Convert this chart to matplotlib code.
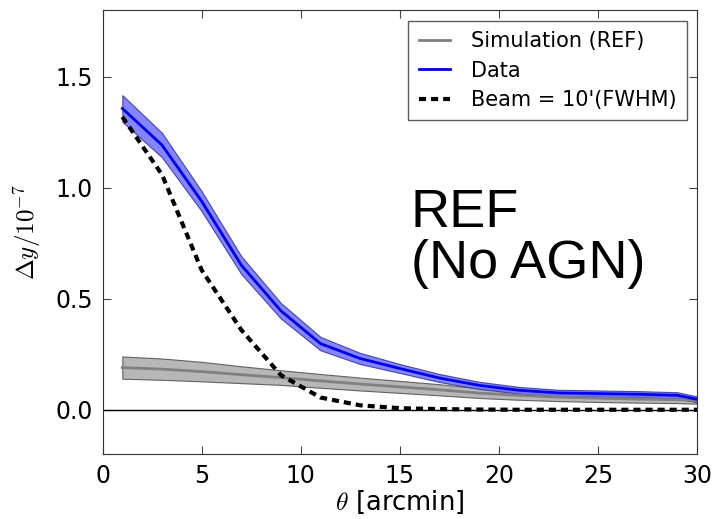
import numpy as np
import matplotlib
matplotlib.use("Agg")
import matplotlib.pyplot as plt

plt.rcParams['mathtext.fontset'] = 'cm'
plt.rcParams['font.family'] = 'DejaVu Sans'

# angular bins (arcmin)
theta = [1, 3, 5, 7, 9, 11, 13, 15, 17, 19, 21, 23, 25, 27, 29, 30]

# measured profile and its error band
data_y = [1.358, 1.193, 0.940, 0.652, 0.446, 0.298, 0.231, 0.186, 0.143, 0.110,
          0.088, 0.076, 0.073, 0.070, 0.065, 0.047]
data_err = [0.060, 0.055, 0.045, 0.040, 0.035, 0.030, 0.025, 0.020, 0.018, 0.016,
            0.015, 0.014, 0.014, 0.014, 0.014, 0.013]

# REF simulation profile and its scatter
sim_y = [0.190, 0.183, 0.172, 0.158, 0.145, 0.130, 0.116, 0.103, 0.090, 0.075,
         0.065, 0.057, 0.052, 0.048, 0.045, 0.042]
sim_err = [0.050, 0.048, 0.044, 0.038, 0.033, 0.031, 0.029, 0.027, 0.025, 0.022,
           0.020, 0.018, 0.017, 0.016, 0.015, 0.015]

# beam profile
beam_y = [1.320, 1.060, 0.630, 0.360, 0.156, 0.055, 0.020, 0.007, 0.003, 0.001,
          0.0, 0.0, 0.0, 0.0, 0.0, 0.0]

theta = np.array(theta)
data_y, data_err = np.array(data_y), np.array(data_err)
sim_y, sim_err = np.array(sim_y), np.array(sim_err)

fig = plt.figure(figsize=(7.12, 5.19), dpi=100)
ax = fig.add_axes([0.144, 0.125, 0.835, 0.855])

ax.fill_between(theta, sim_y - sim_err, sim_y + sim_err, facecolor='#b0b0b0',
                edgecolor='#555555', linewidth=0.8, alpha=0.9)
ax.plot(theta, sim_y, color='gray', lw=2, label='Simulation (REF)')
ax.fill_between(theta, data_y - data_err, data_y + data_err, facecolor='#7070ff',
                edgecolor='#3030a0', linewidth=0.8, alpha=0.85)
ax.plot(theta, data_y, color='#0000ee', lw=2, label='Data')
ax.plot(theta, beam_y, color='black', lw=3, ls=(0, (1.7, 1.2)),
        label="Beam = 10'(FWHM)")
ax.axhline(0, color='black', lw=1)

ax.set_xlim(0, 30)
ax.set_ylim(-0.2, 1.8)
ax.set_xticks([0, 5, 10, 15, 20, 25, 30])
ax.set_yticks([0.0, 0.5, 1.0, 1.5])
ax.tick_params(direction='in', top=True, right=True, length=6, labelsize=17, pad=7,
               color='#444444')
for s in ax.spines.values():
    s.set_color('#333333')

ax.set_xlabel(r'$\theta$ [arcmin]', fontsize=18.5, labelpad=1)
ax.set_ylabel(r'$\Delta y/10^{-7}$', fontsize=18, labelpad=9)

ax.text(15.55, 0.593, 'REF\n(No AGN)', fontsize=39, family='Liberation Sans',
        va='baseline', ha='left', linespacing=1.03)

leg = ax.legend(loc='upper right', fontsize=15, frameon=True, fancybox=False,
                handlelength=1.5, handletextpad=1.0, labelspacing=0.45,
                borderaxespad=0.5, borderpad=0.5)
leg.get_frame().set_edgecolor('#333333')

fig.savefig('out.png', dpi=100)
